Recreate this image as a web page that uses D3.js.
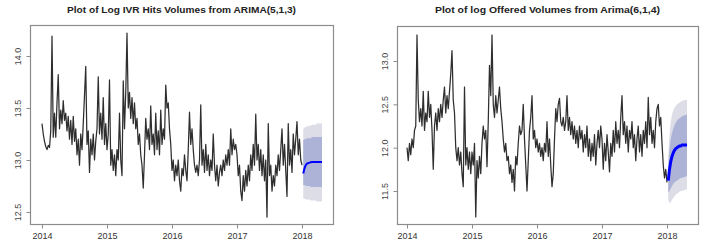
<!DOCTYPE html>
<html>
<head>
<meta charset="utf-8">
<script src="https://cdn.jsdelivr.net/npm/d3@7"></script>
<style>
  body { margin: 0; background: #fff; }
  svg { display: block; font-family: "Liberation Sans", Arial, sans-serif; }
</style>
</head>
<body>
<div id="canvas"></div>
<script>
// ---- data (weekly steps from 2014.0) ----

const years = [2014, 2015, 2016, 2017, 2018];

// left: log IVR hits
const ivrTitle = 'Plot of Log IVR Hits Volumes from ARIMA(5,1,3)';
const ivrTicks = [12.5, 13.0, 13.5, 14.0];
const ivrValues = [
  // 2014
  13.35, 13.25, 13.18, 13.13, 13.10, 13.14, 13.12, 13.28, 14.19, 13.22, 13.45, 13.22, 13.55,
  13.82, 13.30, 13.48, 13.35, 13.57, 13.38, 13.45, 13.28, 13.42, 13.20, 13.38, 13.15, 13.42,
  13.18, 13.30, 13.05, 13.20, 12.95, 13.25, 13.10, 13.35, 13.62, 13.90, 13.15, 13.28, 12.88,
  13.20, 13.05, 13.25, 13.00, 13.18, 13.30, 13.80, 13.25, 13.45, 13.20, 13.60, 13.15, 13.35,
  // 2015
  13.10, 13.25, 13.77, 12.95, 13.10, 12.90, 13.05, 12.85, 13.10, 13.00, 13.45, 13.00, 12.85,
  13.76, 13.30, 13.65, 14.22, 13.50, 13.65, 13.40, 13.60, 13.35, 13.55, 13.30, 13.40, 13.15,
  13.25, 13.05, 12.95, 12.73, 13.05, 13.40, 13.20, 13.30, 13.10, 13.52, 13.15, 13.25, 13.05,
  13.45, 13.10, 13.28, 13.05, 13.48, 13.15, 13.30, 13.20, 13.72, 13.50, 13.55, 13.30, 13.15,
  // 2016
  12.90, 13.00, 12.80, 12.95, 12.85, 13.00, 12.80, 12.70, 12.92, 12.85, 13.05, 12.90, 12.80,
  13.10, 13.46, 13.15, 13.30, 13.10, 12.95, 12.88, 12.95, 12.85, 13.00, 13.53, 12.95, 13.10,
  12.88, 13.15, 12.90, 13.05, 12.85, 13.00, 12.90, 13.25, 12.95, 12.80, 12.95, 12.75, 12.88,
  12.95, 12.85, 13.00, 12.90, 13.05, 12.95, 13.10, 12.95, 13.30, 13.05, 13.20, 13.10, 13.15,
  // 2017
  13.05, 12.85, 12.95, 12.70, 12.61, 12.85, 12.70, 12.90, 12.75, 12.95, 12.80, 13.05, 12.90,
  13.15, 12.95, 13.44, 13.00, 13.15, 12.90, 13.10, 12.85, 13.05, 12.80, 13.00, 12.45, 13.35,
  12.85, 12.95, 12.70, 12.85, 12.75, 12.95, 12.85, 13.05, 12.90, 13.10, 13.30, 12.95, 13.15,
  12.90, 12.65, 13.35, 12.95, 13.10, 12.88, 13.25, 13.05, 13.20, 13.37, 13.05, 13.20, 13.00,
  // 2018.0
  12.95
];
const ivrMean = [12.87, 12.92, 12.95, 12.965, 12.97, 12.975, 12.978, 12.98, 12.98, 12.98, 12.98, 12.98, 12.98, 12.98, 12.98, 12.98];
const ivrHi95 = [13.30, 13.31, 13.32, 13.32, 13.33, 13.33, 13.33, 13.34, 13.34, 13.34, 13.34, 13.35, 13.35, 13.35, 13.35, 13.35];
const ivrLo95 = [12.63, 12.63, 12.62, 12.62, 12.62, 12.62, 12.61, 12.61, 12.61, 12.61, 12.61, 12.60, 12.60, 12.60, 12.60, 12.60];
const ivrHi80 = [13.19, 13.20, 13.20, 13.21, 13.21, 13.21, 13.21, 13.22, 13.22, 13.22, 13.22, 13.22, 13.22, 13.22, 13.22, 13.22];
const ivrLo80 = [12.76, 12.76, 12.75, 12.75, 12.75, 12.75, 12.74, 12.74, 12.74, 12.74, 12.74, 12.74, 12.74, 12.74, 12.74, 12.74];

// right: log offered volumes
const offTitle = 'Plot of log Offered Volumes from Arima(6,1,4)';
const offTicks = [11.5, 12.0, 12.5, 13.0];
const offValues = [
  // 2014
  12.00, 11.85, 12.05, 11.92, 12.10, 12.00, 12.20, 12.25, 13.30, 12.55, 12.30, 12.45, 12.25,
  12.65, 12.20, 12.40, 12.30, 12.65, 12.35, 12.50, 12.20, 11.75, 12.25, 12.40, 12.20, 12.45,
  12.30, 12.50, 12.35, 12.55, 12.70, 12.40, 12.60, 12.45, 12.65, 12.85, 13.12, 12.55, 12.40,
  12.00, 11.85, 12.00, 11.80, 11.95, 11.70, 11.55, 12.70, 11.80, 12.00, 11.75, 11.95, 11.70,
  // 2015
  11.95, 11.80, 12.05, 11.20, 11.85, 11.65, 11.90, 11.70, 12.05, 12.25, 12.10, 12.20, 11.78,
  12.30, 12.95, 12.60, 13.30, 12.50, 12.35, 12.60, 12.40, 12.55, 12.70, 12.45, 12.30, 12.10,
  11.95, 12.05, 11.85, 11.90, 11.70, 11.80, 11.60, 11.75, 11.50, 11.90, 11.80, 12.05, 12.25,
  12.15, 12.20, 12.50, 12.10, 11.80, 11.50, 11.85, 12.20, 12.35, 12.60, 12.10, 12.20, 12.00,
  // 2016
  12.10, 11.95, 12.05, 11.90, 12.00, 11.85, 12.05, 11.95, 12.30, 11.90, 12.10, 11.80, 11.55,
  11.70, 12.10, 12.45, 12.30, 12.50, 12.57, 12.30, 12.25, 12.35, 12.20, 12.30, 12.60, 12.20,
  12.35, 12.15, 12.30, 12.10, 12.25, 12.05, 12.20, 12.00, 12.25, 12.10, 12.20, 11.95, 12.15,
  12.00, 12.25, 11.90, 12.10, 11.85, 12.05, 11.90, 12.15, 11.80, 12.05, 12.20, 12.00, 12.25,
  // 2017
  12.10, 11.75, 12.05, 11.85, 12.15, 11.95, 11.72, 12.05, 11.90, 12.20, 11.95, 12.30, 12.05,
  12.20, 12.00, 12.35, 12.60, 12.15, 12.30, 12.05, 12.25, 11.95, 12.20, 12.10, 12.30, 12.00,
  12.15, 11.85, 12.10, 12.25, 11.95, 12.15, 11.90, 12.20, 12.05, 12.30, 12.00, 12.58, 12.15,
  12.35, 12.05, 12.20, 12.00, 12.30, 12.45, 12.50, 12.25, 12.35, 12.05, 11.80, 11.65, 11.75,
  // 2018.0
  11.60
];
const offMean = [11.62, 11.75, 11.84, 11.90, 11.94, 11.97, 11.99, 12.00, 12.01, 12.02, 12.02, 12.03, 12.03, 12.03, 12.03, 12.03];
const offHi95 = [11.90, 12.15, 12.30, 12.38, 12.43, 12.46, 12.48, 12.50, 12.51, 12.52, 12.53, 12.54, 12.54, 12.55, 12.55, 12.55];
const offLo95 = [11.40, 11.36, 11.37, 11.40, 11.42, 11.44, 11.46, 11.47, 11.48, 11.49, 11.50, 11.50, 11.51, 11.51, 11.52, 11.52];
const offHi80 = [11.80, 11.98, 12.10, 12.17, 12.22, 12.26, 12.29, 12.31, 12.33, 12.34, 12.35, 12.36, 12.37, 12.37, 12.38, 12.38];
const offLo80 = [11.48, 11.50, 11.53, 11.56, 11.58, 11.60, 11.61, 11.62, 11.63, 11.64, 11.65, 11.65, 11.66, 11.66, 11.67, 11.67];

// -------------------------------------------

const W = 705, H = 246;
const svg = d3.select('#canvas').append('svg')
  .attr('width', W).attr('height', H);

// one R-style forecast panel
function panel(o) {
  const x = d3.scaleLinear().domain([2014, 2018]).range(o.xr);
  const y = d3.scaleLinear().domain([o.yTicks[0], o.yTicks[3]]).range(o.yr);
  const g = svg.append('g');

  const t = i => 2014 + i / 52;           // weekly steps
  const ft = i => 2018 + (i + 1) / 52;    // forecast steps

  // fan: 95% then 80%
  const band = (hi, lo) => d3.area()
    .x((d, i) => x(ft(i)))
    .y0((d, i) => y(lo[i]))
    .y1((d, i) => y(hi[i]));
  g.append('path').datum(o.mean).attr('fill', '#dcdde7').attr('d', band(o.hi95, o.lo95));
  g.append('path').datum(o.mean).attr('fill', '#adb3d6').attr('d', band(o.hi80, o.lo80));

  // observed series
  g.append('path').datum(o.values)
    .attr('fill', 'none').attr('stroke', '#000').attr('stroke-width', 1.25)
    .attr('stroke-opacity', 0.82).attr('stroke-linejoin', 'round')
    .attr('d', d3.line().x((d, i) => x(t(i))).y(d => y(d)));

  // forecast mean
  g.append('path').datum(o.mean)
    .attr('fill', 'none').attr('stroke', '#0000ff').attr('stroke-width', o.meanWidth)
    .attr('d', d3.line().x((d, i) => x(ft(i))).y(d => y(d)));

  // frame
  const [bx0, bx1] = o.box[0], [by0, by1] = o.box[1];
  g.append('rect').attr('x', bx0 + 0.5).attr('y', by0 + 0.5)
    .attr('width', bx1 - bx0).attr('height', by1 - by0)
    .attr('fill', 'none').attr('stroke', '#8c8c8c').attr('stroke-width', 1.2);

  // x axis
  const xa = g.append('g').attr('transform', `translate(0,${by1 + 0.5})`)
    .call(d3.axisBottom(x).tickValues(years).tickFormat(d3.format('d')).tickSize(4).tickPadding(4));
  xa.select('.domain').attr('d', `M${x(2014)},0H${x(2018)}`).attr('stroke', '#8c8c8c');
  xa.selectAll('line').attr('stroke', '#8c8c8c');
  xa.selectAll('text').attr('fill', '#333').style('font-size', '9px');

  // y axis, labels turned like R
  const ya = g.append('g').attr('transform', `translate(${bx0 + 0.5},0)`)
    .call(d3.axisLeft(y).tickValues(o.yTicks).tickFormat(d3.format('.1f')).tickSize(4));
  ya.select('.domain').attr('d', `M0,${y(o.yTicks[0])}V${y(o.yTicks[3])}`).attr('stroke', '#8c8c8c');
  ya.selectAll('line').attr('stroke', '#8c8c8c');
  ya.selectAll('text')
    .attr('x', null).attr('dy', null)
    .attr('transform', 'translate(-10,0) rotate(-90)')
    .attr('text-anchor', 'middle')
    .attr('fill', '#444').style('font-size', '9px');

  // title
  svg.append('text')
    .attr('x', (bx0 + bx1) / 2).attr('y', 13)
    .attr('text-anchor', 'middle')
    .attr('font-weight', 'bold').style('font-size', '9px')
    .attr('fill', '#222')
    .attr('textLength', o.titleLen).attr('lengthAdjust', 'spacingAndGlyphs')
    .text(o.title);
}

panel({
  title: ivrTitle, titleLen: 229,
  values: ivrValues, mean: ivrMean, meanWidth: 2,
  hi95: ivrHi95, lo95: ivrLo95, hi80: ivrHi80, lo80: ivrLo80,
  yTicks: ivrTicks,
  xr: [42, 302], yr: [212, 56],
  box: [[30, 333], [25, 224]]
});

panel({
  title: offTitle, titleLen: 225,
  values: offValues, mean: offMean, meanWidth: 3,
  hi95: offHi95, lo95: offLo95, hi80: offHi80, lo80: offLo80,
  yTicks: offTicks,
  xr: [407, 667], yr: [191, 61],
  box: [[397, 698], [26, 224]]
});
</script>
</body>
</html>
